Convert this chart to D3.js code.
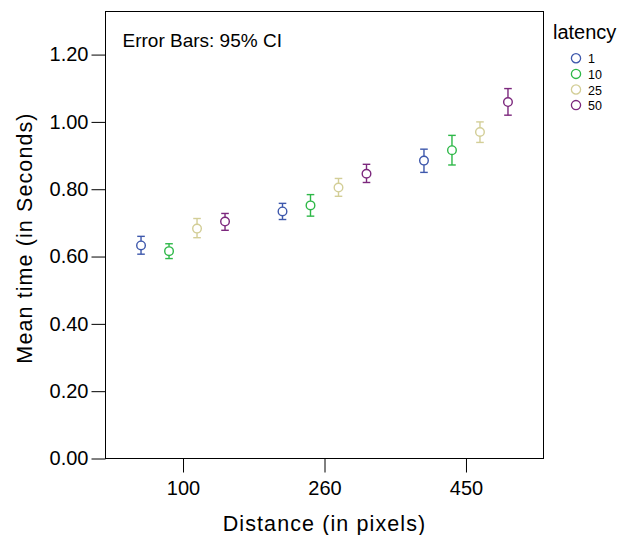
<!DOCTYPE html>
<html>
<head>
<meta charset="utf-8">
<script src="https://cdn.jsdelivr.net/npm/d3@7"></script>
<style>
  html, body { margin: 0; padding: 0; background: #fff; }
  svg { display: block; font-family: "Liberation Sans", Arial, sans-serif; }
</style>
</head>
<body>
<svg id="chart" width="634" height="535"></svg>
<script>
// ---- data ----
const distances = ["100", "260", "450"];
const latencies = ["1", "10", "25", "50"];
const latencyColors = ["#3e58ac", "#2eb848", "#d3ce97", "#7c287d"];
// mean time per latency, one value per distance
const meanByLatency = {
  "1":  [0.633, 0.734, 0.885],
  "10": [0.616, 0.752, 0.916],
  "25": [0.683, 0.805, 0.970],
  "50": [0.704, 0.846, 1.059]
};
const lowerCI = {
  "1":  [0.607, 0.710, 0.850],
  "10": [0.594, 0.720, 0.872],
  "25": [0.656, 0.779, 0.939],
  "50": [0.678, 0.820, 1.020]
};
const upperCI = {
  "1":  [0.660, 0.758, 0.919],
  "10": [0.638, 0.784, 0.960],
  "25": [0.713, 0.832, 1.000],
  "50": [0.728, 0.874, 1.099]
};
const yTicks = [0, 0.2, 0.4, 0.6, 0.8, 1.0, 1.2];

// ---- layout ----
const svg = d3.select("#chart");
const m = { left: 105.5, top: 11.5, right: 543.5, bottom: 458.5 };

const x = d3.scalePoint().domain(distances).range([m.left, m.right]).padding(0.548);
const xOff = d3.scalePoint().domain(latencies).range([-42, 42]);
const y = d3.scaleLinear().domain([0, 1.328]).range([m.bottom, m.top]);
const color = d3.scaleOrdinal().domain(latencies).range(latencyColors);

const rows = [];
latencies.forEach(l => distances.forEach((d, i) => {
  rows.push({ lat: l, dist: d, mean: meanByLatency[l][i], lo: lowerCI[l][i], hi: upperCI[l][i] });
}));

// frame
svg.append("rect")
  .attr("x", m.left).attr("y", m.top)
  .attr("width", m.right - m.left).attr("height", m.bottom - m.top)
  .attr("fill", "none").attr("stroke", "#000").attr("stroke-width", 1);

// axes
const yAxis = svg.append("g")
  .attr("transform", `translate(${m.left},0)`)
  .call(d3.axisLeft(y).tickValues(yTicks).tickFormat(d3.format(".2f")).tickSize(14).tickPadding(3));
const xAxis = svg.append("g")
  .attr("transform", `translate(0,${m.bottom})`)
  .call(d3.axisBottom(x).tickSize(14).tickPadding(8));
[yAxis, xAxis].forEach(g => {
  g.select(".domain").remove();
  g.selectAll("line").attr("stroke", "#000");
  g.selectAll("text").attr("fill", "#000").style("font-size", "20px")
    .style("font-family", "'Liberation Sans', Arial, sans-serif");
});

// axis titles
svg.append("text")
  .attr("transform", `translate(31.5,238) rotate(-90)`)
  .attr("text-anchor", "middle").style("font-size", "21.5px").style("letter-spacing", "1.1px")
  .text("Mean time (in Seconds)");
svg.append("text")
  .attr("x", (m.left + m.right) / 2).attr("y", 531)
  .attr("text-anchor", "middle").style("font-size", "21.5px").style("letter-spacing", "1.1px")
  .text("Distance (in pixels)");

// annotation
svg.append("text")
  .attr("x", 122.5).attr("y", 47)
  .style("font-size", "19px").text("Error Bars: 95% CI");

// error bars
const capW = 3.8;
const g = svg.append("g");
const pts = g.selectAll("g.pt").data(rows).join("g")
  .attr("class", "pt")
  .attr("stroke", d => color(d.lat))
  .attr("fill", "none")
  .attr("stroke-width", 1.4);
pts.append("line")
  .attr("x1", d => x(d.dist) + xOff(d.lat)).attr("x2", d => x(d.dist) + xOff(d.lat))
  .attr("y1", d => y(d.lo)).attr("y2", d => y(d.hi));
pts.append("line")
  .attr("x1", d => x(d.dist) + xOff(d.lat) - capW).attr("x2", d => x(d.dist) + xOff(d.lat) + capW)
  .attr("y1", d => y(d.hi)).attr("y2", d => y(d.hi));
pts.append("line")
  .attr("x1", d => x(d.dist) + xOff(d.lat) - capW).attr("x2", d => x(d.dist) + xOff(d.lat) + capW)
  .attr("y1", d => y(d.lo)).attr("y2", d => y(d.lo));
pts.append("circle")
  .attr("cx", d => x(d.dist) + xOff(d.lat)).attr("cy", d => y(d.mean))
  .attr("r", 4.3).attr("fill", "#fff");

// legend
const lg = svg.append("g");
lg.append("text").attr("x", 553).attr("y", 38.5).style("font-size", "20px").text("latency");
const items = lg.selectAll("g.item").data(latencies).join("g")
  .attr("class", "item")
  .attr("transform", (d, i) => `translate(576,${58.3 + i * 15.6})`);
items.append("circle").attr("r", 4.6).attr("fill", "none")
  .attr("stroke", d => color(d)).attr("stroke-width", 1.3);
items.append("text").attr("x", 12).attr("y", 5).style("font-size", "12.5px").text(d => d);
</script>
</body>
</html>
